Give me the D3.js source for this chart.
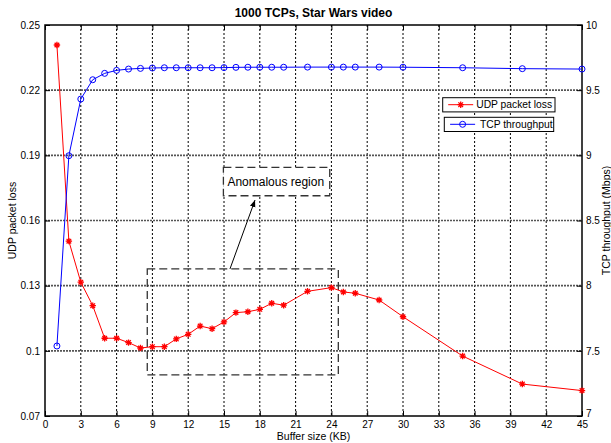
<!DOCTYPE html>
<html>
<head>
<meta charset="utf-8">
<script src="https://cdnjs.cloudflare.com/ajax/libs/d3/7.8.5/d3.min.js"></script>
<style>
body { margin: 0; background: #fff; }
text { font-family: "Liberation Sans", Arial, sans-serif; fill: #000; }
</style>
</head>
<body>
<svg id="chart" width="611" height="443"></svg>
<script>

let bufferSizes = [1,2,3,4,5,6,7,8,9,10,11,12,13,14,15,16,17,18,19,20,22,24,25,26,28,30,35,40,45]

let udpLoss = [0.2408,0.1505,0.1316,0.1208,0.1058,0.1058,0.1038,0.1013,0.1019,0.1019,
    0.1055,0.1076,0.1114,0.1102,0.1133,0.1176,0.1180,0.1191,0.1219,0.1210,
    0.1274,0.1291,0.1271,0.1265,0.1234,0.1157,0.0976,0.0847,0.0817]

let tcpThroughput = [7.537,8.997,9.432,9.580,9.629,9.652,9.662,9.667,9.670,9.672,
    9.672,9.672,9.672,9.672,9.673,9.675,9.676,9.676,9.676,9.676,
    9.677,9.677,9.677,9.677,9.677,9.676,9.672,9.665,9.662]

let xTicks = [0,3,6,9,12,15,18,21,24,27,30,33,36,39,42,45]
let lossTicks = [0.07,0.1,0.13,0.16,0.19,0.22,0.25]
let tputTicks = [7,7.5,8,8.5,9,9.5,10]

// annotation shapes in data units (x, udp loss)
let anomalyBox = [[8.57, 0.1377], [24.58, 0.0889]]
let labelBox = [[14.95, 0.1845], [23.86, 0.1714]]
let arrowPts = [[15.5, 0.1377], [17.6, 0.1694]]

let margin = {top: 25, right: 29, bottom: 27, left: 45}
let width = 611 - margin.left - margin.right
let height = 443 - margin.top - margin.bottom

let svg = d3.select("#chart")
let g = svg.append("g").attr("transform", `translate(${margin.left},${margin.top})`)

let xScale = d3.scaleLinear().domain([0, 45]).range([0, width])
let yLoss = d3.scaleLinear().domain([0.07, 0.25]).range([height, 0])
let yTput = d3.scaleLinear().domain([7, 10]).range([height, 0])

// grid
g.selectAll(".vgrid").data(xTicks.slice(1, -1)).enter()
    .append("line")
    .attr("x1", d => xScale(d)).attr("x2", d => xScale(d))
    .attr("y1", 0).attr("y2", height)
    .attr("stroke", "#000").attr("stroke-width", 1)
    .attr("stroke-dasharray", "2,2")

g.selectAll(".hgrid").data(lossTicks.slice(1, -1)).enter()
    .append("line")
    .attr("x1", 0).attr("x2", width)
    .attr("y1", d => yLoss(d)).attr("y2", d => yLoss(d))
    .attr("stroke", "#555").attr("stroke-width", 1.6)
    .attr("stroke-dasharray", "2,1")

// axes
let fmt = d => String(+d.toFixed(2))

let axisFont = sel => sel.selectAll("text").style("font-size", "10px")

g.append("g").attr("transform", `translate(0,${height})`)
    .call(d3.axisBottom(xScale).tickValues(xTicks).tickSizeInner(-5).tickSizeOuter(0).tickPadding(5))
    .call(axisFont)
g.append("g")
    .call(d3.axisTop(xScale).tickValues(xTicks).tickSizeInner(-5).tickSizeOuter(0).tickFormat(""))
g.append("g")
    .call(d3.axisLeft(yLoss).tickValues(lossTicks).tickSizeInner(-5).tickSizeOuter(0).tickPadding(5).tickFormat(fmt))
    .call(axisFont)
let rightAxis = g.append("g").attr("transform", `translate(${width},0)`)
    .call(d3.axisRight(yTput).tickValues(tputTicks).tickSizeInner(-5).tickSizeOuter(0).tickPadding(4).tickFormat(fmt))
    .call(axisFont)
// lift the bottom "7" a little so it clears "45"
rightAxis.selectAll(".tick text").filter(d => d == 7).attr("y", -3)

g.selectAll(".domain").remove()
g.selectAll(".tick line").attr("stroke", "#000")

g.append("rect")
    .attr("width", width).attr("height", height)
    .attr("fill", "none").attr("stroke", "#000").attr("stroke-width", 1.5)

// annotations
g.append("rect")
    .attr("x", xScale(anomalyBox[0][0])).attr("y", yLoss(anomalyBox[0][1]))
    .attr("width", xScale(anomalyBox[1][0]) - xScale(anomalyBox[0][0]))
    .attr("height", yLoss(anomalyBox[1][1]) - yLoss(anomalyBox[0][1]))
    .attr("fill", "none").attr("stroke", "#333").attr("stroke-width", 1.3)
    .attr("stroke-dasharray", "8,4")

g.append("rect")
    .attr("x", xScale(labelBox[0][0])).attr("y", yLoss(labelBox[0][1]))
    .attr("width", xScale(labelBox[1][0]) - xScale(labelBox[0][0]))
    .attr("height", yLoss(labelBox[1][1]) - yLoss(labelBox[0][1]))
    .attr("fill", "#fff").attr("stroke", "#333").attr("stroke-width", 1.3)
    .attr("stroke-dasharray", "8,4")

g.append("text")
    .attr("x", xScale(labelBox[0][0]) + 4)
    .attr("y", (yLoss(labelBox[0][1]) + yLoss(labelBox[1][1])) / 2 + 4)
    .style("font-size", "12px")
    .text("Anomalous region")

svg.append("defs").append("marker")
    .attr("id", "head").attr("viewBox", "0 0 10 10")
    .attr("refX", 10).attr("refY", 5)
    .attr("markerWidth", 7).attr("markerHeight", 7)
    .attr("orient", "auto")
    .append("path").attr("d", "M0,1L10,5L0,9Z").attr("fill", "#000")

g.append("line")
    .attr("x1", xScale(arrowPts[0][0])).attr("y1", yLoss(arrowPts[0][1]))
    .attr("x2", xScale(arrowPts[1][0])).attr("y2", yLoss(arrowPts[1][1]))
    .attr("stroke", "#000").attr("stroke-width", 1)
    .attr("marker-end", "url(#head)")

// series
let lossLine = d3.line().x((d, i) => xScale(bufferSizes[i])).y(d => yLoss(d))
let tputLine = d3.line().x((d, i) => xScale(bufferSizes[i])).y(d => yTput(d))

let star = "M-3.2,0H3.2M0,-3.2V3.2M-2.3,-2.3L2.3,2.3M-2.3,2.3L2.3,-2.3"

g.append("path").datum(udpLoss)
    .attr("d", lossLine).attr("fill", "none").attr("stroke", "#f00").attr("stroke-width", 1)

g.selectAll(".lossPt").data(udpLoss).enter()
    .append("path")
    .attr("d", star)
    .attr("transform", (d, i) => `translate(${xScale(bufferSizes[i])},${yLoss(d)})`)
    .attr("stroke", "#f00").attr("stroke-width", 1.3)

g.append("path").datum(tcpThroughput)
    .attr("d", tputLine).attr("fill", "none").attr("stroke", "#00f").attr("stroke-width", 1)

g.selectAll(".tputPt").data(tcpThroughput).enter()
    .append("circle")
    .attr("cx", (d, i) => xScale(bufferSizes[i]))
    .attr("cy", d => yTput(d))
    .attr("r", 3)
    .attr("fill", "none").attr("stroke", "#00f").attr("stroke-width", 1)

// legend
let legend = [
    {label: "UDP packet loss", color: "#f00", mark: "star", x: 442.7, y: 97.7, w: 112.3},
    {label: "TCP throughput", color: "#00f", mark: "circle", x: 444.3, y: 117.3, w: 109.4}
]

for (let item of legend) {
    let lg = svg.append("g").attr("transform", `translate(${item.x},${item.y})`)
    lg.append("rect").attr("width", item.w).attr("height", 14.2)
        .attr("fill", "#fff").attr("stroke", "#000").attr("stroke-width", 1)
    let off = item.mark == "star" ? 5.5 : 5.8
    lg.append("line").attr("x1", off).attr("x2", off + 25).attr("y1", 7).attr("y2", 7)
        .attr("stroke", item.color).attr("stroke-width", 1)
    if (item.mark == "star") {
        lg.append("path").attr("d", star).attr("transform", `translate(${off + 12.5},7)`)
            .attr("stroke", item.color).attr("stroke-width", 1.3)
    } else {
        lg.append("circle").attr("cx", off + 12.5).attr("cy", 7).attr("r", 3)
            .attr("fill", "none").attr("stroke", item.color)
    }
    lg.append("text").attr("x", item.mark == "star" ? 33.5 : 35.7).attr("y", 10.8)
        .style("font-size", "10.3px").text(item.label)
}

// titles
svg.append("text")
    .attr("x", margin.left + width / 2).attr("y", 17)
    .attr("text-anchor", "middle")
    .style("font-size", "12px").style("font-weight", "bold")
    .text("1000 TCPs, Star Wars video")

svg.append("text")
    .attr("x", margin.left + width / 2).attr("y", 440)
    .attr("text-anchor", "middle")
    .style("font-size", "10.5px")
    .text("Buffer size (KB)")

svg.append("text")
    .attr("transform", `translate(16,${margin.top + height / 2}) rotate(-90)`)
    .attr("text-anchor", "middle")
    .style("font-size", "10.5px")
    .text("UDP packet loss")

svg.append("text")
    .attr("transform", `translate(610,${margin.top + height / 2}) rotate(-90)`)
    .attr("text-anchor", "middle")
    .style("font-size", "10.5px")
    .text("TCP throughput (Mbps)")

</script>
</body>
</html>
